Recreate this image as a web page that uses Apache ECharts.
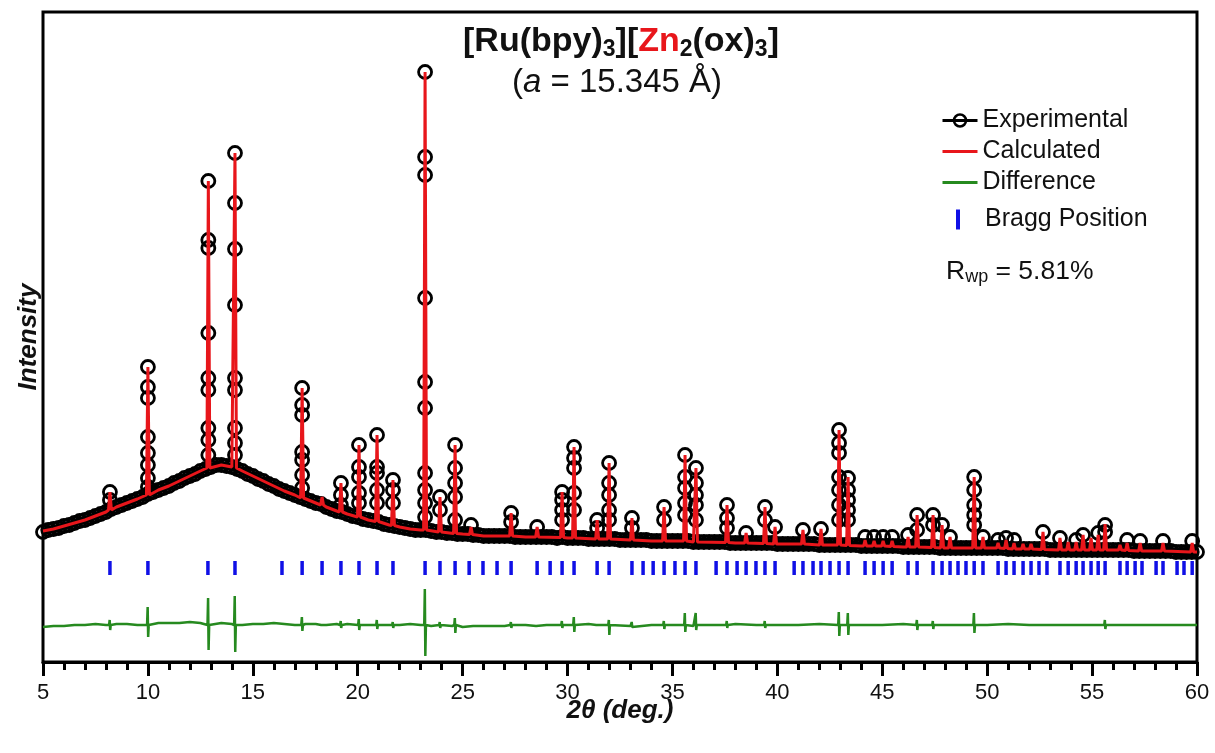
<!DOCTYPE html>
<html>
<head>
<meta charset="utf-8">
<title>[Ru(bpy)3][Zn2(ox)3] PXRD</title>
<script src="https://cdn.jsdelivr.net/npm/echarts@6.0.0/dist/echarts.min.js"></script>
<style>
html, body { margin: 0; padding: 0; background: #fff; }
#chart { width: 1215px; height: 753px; }
</style>
</head>
<body>
<div id="chart"></div>
<script>
var FONT = '"Liberation Sans", Arial, Helvetica, sans-serif';

// 2theta axis
var xMin = 5, xMax = 60, xStep = 5;

// experimental background, one value every 0.25 deg from 5 to 60
var expStart = 5, expStep = 0.25;
var expBase = [
  280, 300, 310, 320,  340, 350, 370, 390,  400, 420, 440, 460,  480, 510, 530, 550,
  570, 590, 610, 630,  660, 680, 700, 720,  740, 770, 790, 820,  840, 860, 890, 910,
  930, 950, 950, 940,  930, 910, 890, 860,  840, 810, 790, 760,  740, 710, 690, 670,
  650, 630, 610, 590,  570, 560, 530, 510,  490, 480, 460, 440,  430, 410, 400, 390,
  380, 360, 350, 340,  330, 320, 310, 300,  300, 300, 290, 280,  280, 270, 270, 260,
  260, 260, 250, 250,  240, 240, 240, 240,  240, 240, 230, 230,  230, 230, 230, 230,
  230, 230, 220, 230,  220, 220, 220, 220,  210, 210, 210, 210,  210, 210, 200, 200,
  200, 200, 200, 200,  190, 190, 190, 190,  190, 190, 190, 190,  180, 180, 180, 180,
  180, 180, 180, 170,  170, 170, 170, 170,  170, 170, 170, 170,  160, 160, 160, 160,
  160, 160, 160, 160,  150, 150, 150, 150,  150, 150, 150, 150,  140, 140, 140, 140,
  140, 140, 140, 140,  130, 130, 130, 130,  130, 130, 130, 120,  120, 120, 120, 120,
  120, 120, 120, 120,  120, 120, 120, 120,  110, 110, 110, 110,  110, 110, 110, 110,
  100, 100, 100, 100,  100, 100, 100, 100,  100, 100, 100, 100,  100, 100, 100, 100,
  90, 90, 90, 90,  90, 90, 90, 90,  80, 80, 80, 80,  80
];

// experimental points stacked on the peaks: [2theta, [intensities]]
var expStacks = [
  [8.19, [680, 600]],
  [10.00, [1930, 1730, 1620, 1230, 1070, 950, 820, 730]],
  [12.88, [3790, 3200, 3120, 2270, 1820, 1700, 1320, 1200, 1050]],
  [14.15, [4070, 3570, 3110, 2550, 1820, 1700, 1320, 1170, 1050]],
  [17.35, [1720, 1550, 1450, 1080, 1000, 850, 720]],
  [19.20, [770, 650, 550]],
  [20.06, [1150, 930, 830, 670, 570]],
  [20.92, [1250, 930, 870, 700, 570]],
  [21.68, [800, 700, 570]],
  [23.21, [4880, 4030, 3850, 2620, 1780, 1520, 870, 700, 570, 430]],
  [23.92, [630, 500]],
  [24.64, [1150, 920, 770, 630, 400]],
  [25.40, [350]],
  [27.31, [470, 380]],
  [28.55, [330]],
  [29.74, [680, 600, 500, 400]],
  [30.31, [1130, 1020, 920, 670, 500]],
  [31.41, [400, 320]],
  [31.98, [970, 770, 650, 500, 400]],
  [33.07, [420, 320]],
  [34.60, [530, 400]],
  [35.60, [1050, 830, 720, 570, 450]],
  [36.12, [920, 770, 650, 550, 400]],
  [37.60, [550, 420, 320]],
  [38.51, [270]],
  [39.41, [530, 400]],
  [39.89, [330]],
  [41.22, [300]],
  [42.08, [310]],
  [42.94, [1300, 1170, 1070, 830, 700, 550, 400]],
  [43.37, [820, 700, 600, 500, 400]],
  [44.18, [230]], [44.61, [230]], [45.04, [230]], [45.47, [230]],
  [46.23, [250]],
  [46.66, [450, 300]],
  [47.42, [450, 350]],
  [47.85, [350]],
  [48.23, [230]],
  [49.38, [830, 700, 550, 450, 350]],
  [49.80, [230]],
  [50.52, [200]], [50.90, [220]], [51.28, [200]],
  [52.66, [280]],
  [53.47, [220]], [54.24, [200]], [54.57, [250]],
  [55.29, [270]],
  [55.62, [350, 280]],
  [56.67, [200]], [57.29, [190]], [58.38, [190]], [59.77, [190]]
];

// calculated background: [2theta, intensity]
var calcBackground = [
  [5, 290], [5.5, 310], [6, 340], [6.5, 370], [7, 400], [7.5, 440], [8, 480], [8.5, 530],
  [9, 570], [9.5, 610], [10, 650], [10.5, 700], [11, 740], [11.5, 790], [12, 840], [12.5, 890],
  [13, 930], [13.5, 950], [14, 930], [14.5, 890], [15, 840], [15.5, 790], [16, 740], [16.5, 690],
  [17, 650], [17.5, 610], [18, 570], [18.5, 530], [19, 490], [19.5, 460], [20, 430], [20.5, 400],
  [21, 380], [21.5, 350], [22, 330], [22.5, 310], [23, 300], [24, 280], [25, 260], [26, 240],
  [27, 240], [28, 230], [30, 220], [32, 210], [34, 190], [36, 180], [38, 170], [40, 160],
  [42, 150], [44, 140], [46, 130], [48, 120], [50, 120], [52, 110], [54, 100], [56, 100],
  [58, 90], [60, 80]
];

// calculated peaks: [2theta, foot, apex]
var calcPeaks = [
  [8.19, 500, 680], [10.00, 650, 1930], [12.88, 920, 3790], [14.15, 920, 4070],
  [17.35, 620, 1720], [18.30, 550, 630], [19.20, 480, 770], [20.06, 430, 1150],
  [20.92, 385, 1250], [21.68, 345, 800], [23.21, 300, 4880], [23.92, 280, 630],
  [24.64, 265, 1150], [25.40, 255, 330], [27.31, 240, 470], [28.55, 230, 330],
  [29.74, 225, 680], [30.31, 220, 1130], [31.41, 210, 400], [31.98, 210, 970],
  [33.07, 200, 420], [34.60, 190, 530], [35.60, 190, 1050], [36.12, 180, 920],
  [37.60, 175, 550], [38.51, 170, 270], [39.41, 165, 530], [39.89, 160, 330],
  [41.22, 160, 300], [42.08, 150, 310], [42.94, 150, 1300], [43.37, 145, 830],
  [44.18, 140, 200], [44.61, 140, 190], [45.04, 140, 190], [45.47, 135, 190],
  [46.23, 130, 230], [46.66, 130, 450], [47.42, 125, 450], [47.85, 120, 350],
  [48.23, 120, 230], [49.38, 120, 830], [49.80, 120, 230], [50.52, 120, 170],
  [50.90, 115, 200], [51.28, 110, 170], [51.71, 110, 160], [52.09, 110, 160],
  [52.66, 105, 280], [53.47, 100, 220], [53.86, 100, 180], [54.24, 100, 180],
  [54.57, 100, 250], [54.95, 100, 220], [55.29, 100, 250], [55.62, 100, 360],
  [56.33, 100, 150], [56.67, 95, 170], [57.29, 90, 170], [58.38, 90, 170],
  [59.77, 80, 170]
];

// difference (obs - calc) baseline: [2theta, value]
var diffBase = [
  [5, -20], [5.5, -10], [6, -10], [6.5, 0], [7, 0], [7.5, 10], [8, 0], [8.5, 10], [9, 10],
  [9.5, 0], [10, 10], [10.5, 20], [11, 20], [11.5, 20], [12, 30], [12.5, 20], [13, 10],
  [13.5, 20], [14, 10], [14.5, 0], [15, 10], [15.5, 10], [16, 20], [16.5, 10], [17, 0],
  [17.5, 10], [18, 10], [18.5, 0], [19, 10], [19.5, 10], [20, 10], [20.5, 0], [21, 10],
  [21.5, 0], [22, 0], [22.5, 10], [23, 0], [23.5, -10], [24, -10], [24.5, -10], [25, -20],
  [25.5, -10], [26, -10], [26.5, -10], [27, -10], [27.5, 0], [28, 0], [28.5, -10], [29, 0],
  [29.5, 0], [30, 0], [31, 10], [32, 0], [33, -10], [34, 0], [35, 0], [36, -10], [37, 0],
  [38, 10], [39, 0], [40, 0], [41, 0], [42, 10], [43, 0], [44, 0], [45, 0], [46, 10],
  [47, 0], [48, 0], [49, 0], [50, 0], [51, 10], [52, 0], [53, 0], [54, 0], [55, 0],
  [56, 0], [57, 0], [58, 0], [59, 0], [60, 0]
];

// difference spikes: [2theta, up, down]
var diffSpikes = [
  [8.19, 50, -50], [10.00, 180, -120], [12.88, 270, -250], [14.15, 290, -270],
  [17.35, 80, -60], [18.30, 20, -20], [19.20, 40, -30], [20.06, 60, -50],
  [20.92, 50, -40], [21.68, 30, -30], [23.21, 360, -310], [23.92, 30, -30],
  [24.64, 70, -80], [27.31, 30, -30], [29.74, 40, -30], [30.31, 80, -70],
  [31.41, 20, -20], [31.98, 50, -100], [33.07, 30, -20], [34.60, 40, -40],
  [35.60, 120, -70], [36.12, 120, -50], [37.60, 40, -30], [39.41, 40, -30],
  [42.94, 130, -110], [43.37, 120, -100], [44.18, 20, -20], [46.66, 50, -50],
  [47.42, 40, -40], [49.38, 120, -80], [52.66, 20, -20], [55.62, 50, -40]
];

// Bragg reflection positions (2theta)
var braggPositions = [
  8.19, 10.00, 12.86, 14.15, 16.39, 17.35, 18.30, 19.20, 20.06, 20.92, 21.68,
  23.21, 23.92, 24.64, 25.31, 25.97, 26.64, 27.31, 28.55, 29.17, 29.74, 30.31,
  31.41, 31.98, 33.07, 33.60, 34.08, 34.60, 35.12, 35.60, 36.12, 37.08, 37.60,
  38.08, 38.51, 38.98, 39.41, 39.89, 40.80, 41.22, 41.70, 42.08, 42.51, 42.94,
  43.37, 44.18, 44.61, 45.04, 45.47, 46.23, 46.66, 47.42, 47.85, 48.23, 48.61,
  48.99, 49.38, 49.80, 50.52, 50.90, 51.28, 51.71, 52.09, 52.47, 52.85, 53.47,
  53.86, 54.24, 54.57, 54.95, 55.29, 55.62, 56.33, 56.67, 57.05, 57.38, 58.05,
  58.38, 59.05, 59.38, 59.77
];

// layout offsets (where the difference curve and the tick row sit)
var diffOffset = -650;
var braggRow = -80;
var peakHalfWidth = 0.07;

function byX(a, b) { return a[0] - b[0]; }

// experimental series: dense background run, plus the points stacked on peaks
var expBaseData = expBase.map(function (v, i) { return [expStart + i * expStep, v]; });
var expPeakData = [];
expStacks.forEach(function (s) {
  s[1].forEach(function (y) { expPeakData.push([s[0], y]); });
});

// calculated series
var calcData = [];
calcBackground.forEach(function (p) {
  var near = calcPeaks.some(function (k) { return Math.abs(k[0] - p[0]) < 0.1; });
  if (!near) calcData.push(p);
});
calcPeaks.forEach(function (k) {
  calcData.push([k[0] - peakHalfWidth, k[1]]);
  calcData.push([k[0], k[2]]);
  calcData.push([k[0] + peakHalfWidth, k[1]]);
});
calcData.sort(byX);

// difference series
var diffData = [];
diffBase.forEach(function (p) {
  var near = diffSpikes.some(function (k) { return Math.abs(k[0] - p[0]) < 0.06; });
  if (!near) diffData.push([p[0], p[1] + diffOffset]);
});
diffSpikes.forEach(function (k) {
  diffData.push([k[0] - 0.04, diffOffset]);
  diffData.push([k[0] - 0.012, k[1] + diffOffset]);
  diffData.push([k[0] + 0.012, k[2] + diffOffset]);
  diffData.push([k[0] + 0.04, diffOffset]);
});
diffData.sort(byX);

var braggData = braggPositions.map(function (x) { return [x, braggRow]; });

var circleStyle = { color: 'rgba(0,0,0,0)', borderColor: '#000', borderWidth: 2.8, opacity: 1 };

var chart = echarts.init(document.getElementById('chart'));
chart.setOption({
  animation: false,
  backgroundColor: '#fff',
  grid: {
    left: 43, right: 18, top: 12, bottom: 91,
    show: true, borderColor: '#000', borderWidth: 3,
    containLabel: false, outerBoundsMode: 'none'
  },
  legend: [
    {
      data: [
        { name: 'Experimental' },
        { name: 'Calculated', icon: 'path://M0,0H35V3H0Z' },
        { name: 'Difference', icon: 'path://M0,0H35V3H0Z' }
      ],
      orient: 'vertical', left: 941, top: 108, padding: 0,
      itemWidth: 35, itemHeight: 15, itemGap: 6,
      selectedMode: false,
      lineStyle: { width: 3 },
      itemStyle: { borderWidth: 2.5 },
      textStyle: { fontSize: 25, color: '#111', fontFamily: FONT, lineHeight: 22 }
    },
    {
      data: [{ name: 'Bragg Position', icon: 'rect' }],
      orient: 'vertical', left: 956, top: 207, padding: 0,
      itemWidth: 4, itemHeight: 20,
      selectedMode: false,
      textStyle: { fontSize: 25, color: '#111', fontFamily: FONT, lineHeight: 22, padding: [0, 0, 0, 20] }
    }
  ],
  graphic: [
    {
      type: 'text', x: 621, y: 42, z: 10,
      style: {
        text: '{b|[Ru(bpy)}{s|3}{b|][}{r|Zn}{s|2}{b|(ox)}{s|3}{b|]}',
        align: 'center', verticalAlign: 'middle',
        rich: {
          b: { fontSize: 34, fontWeight: 'bold', fontFamily: FONT, fill: '#111', lineHeight: 38, verticalAlign: 'middle' },
          r: { fontSize: 34, fontWeight: 'bold', fontFamily: FONT, fill: '#e8161b', lineHeight: 38, verticalAlign: 'middle' },
          s: { fontSize: 23, fontWeight: 'bold', fontFamily: FONT, fill: '#111', lineHeight: 16, verticalAlign: 'bottom' }
        }
      }
    },
    {
      type: 'text', x: 617, y: 83, z: 10,
      style: {
        text: '{n|(}{i|a}{n| = 15.345 Å)}',
        align: 'center', verticalAlign: 'middle',
        rich: {
          n: { fontSize: 33, fontFamily: FONT, fill: '#111', lineHeight: 38, verticalAlign: 'middle' },
          i: { fontSize: 33, fontStyle: 'italic', fontFamily: FONT, fill: '#111', lineHeight: 38, verticalAlign: 'middle' }
        }
      }
    },
    {
      type: 'text', x: 946, y: 272, z: 10,
      style: {
        text: '{n|R}{s|wp}{n| = 5.81%}',
        align: 'left', verticalAlign: 'middle',
        rich: {
          n: { fontSize: 26.5, fontFamily: FONT, fill: '#111', lineHeight: 28, verticalAlign: 'middle' },
          s: { fontSize: 18, fontFamily: FONT, fill: '#111', lineHeight: 15, verticalAlign: 'bottom' }
        }
      }
    }
  ],
  xAxis: {
    type: 'value', min: xMin, max: xMax, interval: xStep,
    name: '2θ (deg.)', nameLocation: 'middle', nameGap: 36, nameMoveOverlap: false,
    nameTextStyle: { fontSize: 26, fontWeight: 'bold', fontStyle: 'italic', fontFamily: FONT, color: '#111' },
    axisLine: { show: true, onZero: false, lineStyle: { color: '#000', width: 3 } },
    axisTick: { show: true, inside: false, length: 14, lineStyle: { color: '#000', width: 3 } },
    minorTick: { show: true, splitNumber: 5, length: 8, lineStyle: { color: '#000', width: 3 } },
    axisLabel: { fontSize: 22, color: '#111', fontFamily: FONT, margin: 20, showMinLabel: true, showMaxLabel: true, hideOverlap: false },
    splitLine: { show: false },
    minorSplitLine: { show: false }
  },
  yAxis: {
    type: 'value', min: -1020, max: 5480,
    name: 'Intensity', nameLocation: 'middle', nameGap: 1, nameRotate: 90, nameMoveOverlap: false,
    nameTextStyle: { fontSize: 26, fontWeight: 'bold', fontStyle: 'italic', fontFamily: FONT, color: '#111' },
    axisLine: { show: false }, axisTick: { show: false },
    axisLabel: { show: false }, splitLine: { show: false }
  },
  series: [
    {
      name: 'Experimental', type: 'line', data: expBaseData, z: 2,
      symbol: 'circle', symbolSize: 13, showSymbol: true,
      itemStyle: circleStyle,
      lineStyle: { color: '#000', width: 8 },
      emphasis: { disabled: true }
    },
    {
      name: 'Experimental', type: 'scatter', data: expPeakData, z: 2,
      symbol: 'circle', symbolSize: 13,
      itemStyle: circleStyle,
      emphasis: { disabled: true }
    },
    {
      name: 'Calculated', type: 'line', data: calcData, z: 3,
      symbol: 'none', showSymbol: false,
      itemStyle: { color: '#e8161b' },
      lineStyle: { color: '#e8161b', width: 3 },
      emphasis: { disabled: true }
    },
    {
      name: 'Difference', type: 'line', data: diffData, z: 3,
      symbol: 'none', showSymbol: false,
      itemStyle: { color: '#268a1f' },
      lineStyle: { color: '#268a1f', width: 2.5 },
      emphasis: { disabled: true }
    },
    {
      name: 'Bragg Position', type: 'scatter', data: braggData, z: 3,
      symbol: 'rect', symbolSize: [3.5, 14],
      itemStyle: { color: '#1010e6', opacity: 1 },
      emphasis: { disabled: true }
    }
  ]
});
</script>
</body>
</html>
